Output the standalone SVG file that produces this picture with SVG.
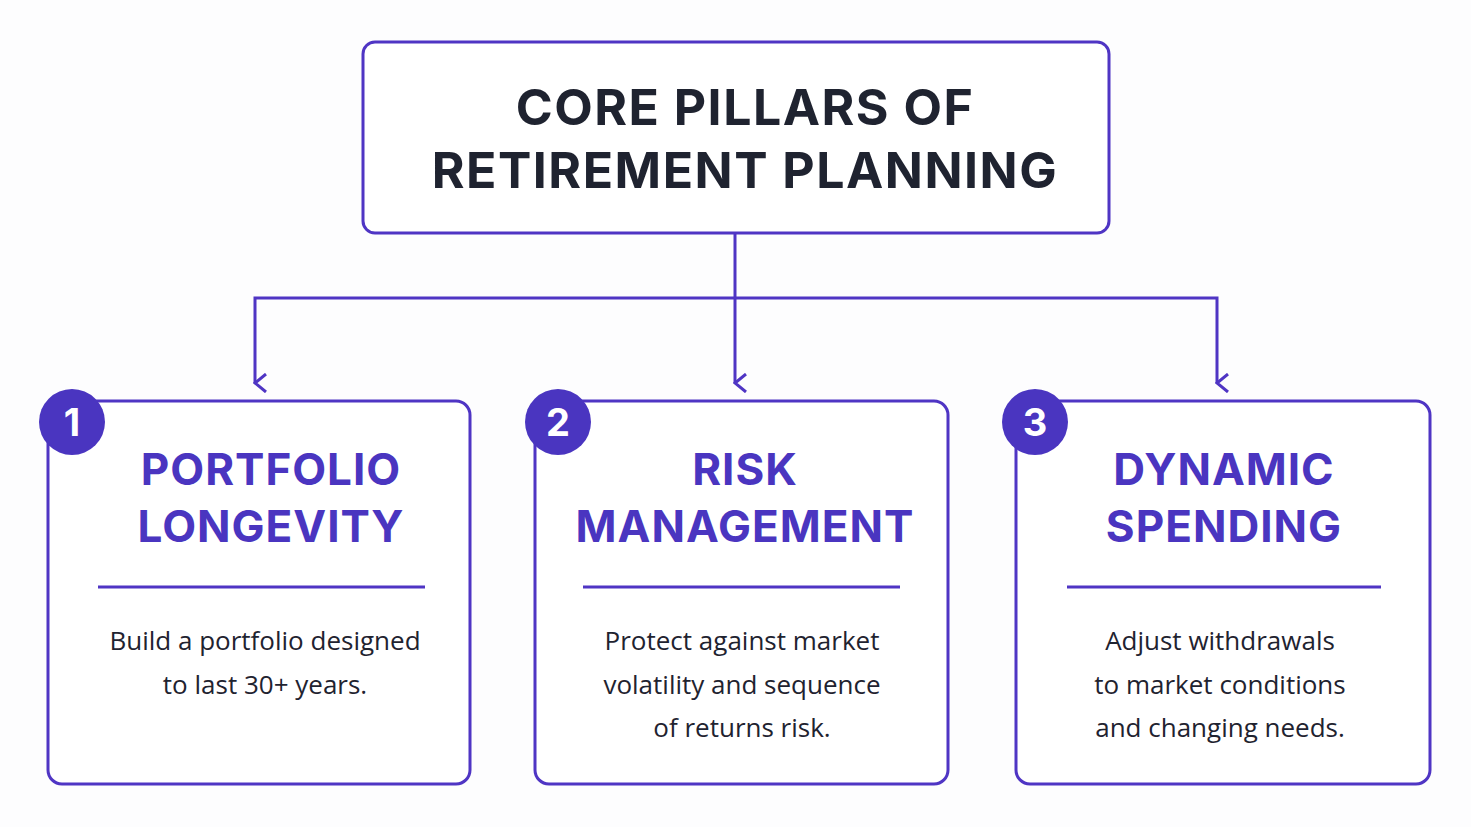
<svg xmlns="http://www.w3.org/2000/svg" width="1471" height="827" viewBox="0 0 1471 827">
<defs>
<style>
.box{fill:#fff;stroke:#4f35c4;stroke-width:3}
.ttl{font-family:Inter,"Liberation Sans",sans-serif;font-weight:700;font-size:50px;fill:#1f2330;text-anchor:middle;letter-spacing:1.5px}
.h{font-family:Inter,"Liberation Sans",sans-serif;font-weight:700;font-size:44px;fill:#4a35c0;text-anchor:middle;letter-spacing:1px}
.b{font-family:"Open Sans","Liberation Sans",sans-serif;font-size:26px;fill:#1f2330;text-anchor:middle}
.num{font-family:Inter,"Liberation Sans",sans-serif;font-weight:700;font-size:38px;fill:#fff;text-anchor:middle}
.sep{stroke:#4f35c4;stroke-width:3}
.c{fill:none;stroke:#4f35c4;stroke-width:3}
</style>
<marker id="a" viewBox="0 0 20 14" refX="10" refY="12" markerWidth="20" markerHeight="14" markerUnits="userSpaceOnUse" orient="auto-start-reverse"><path d="M1 1 L10 12 L19 1" fill="none" stroke="#4f35c4" stroke-width="3"/></marker>
</defs>
<rect width="1471" height="827" fill="#fdfdfe"/>
<g id="connectors">
<path class="c" d="M735 233 V383" marker-end="url(#a)"/>
<path class="c" d="M255 383 V298 H1217 V383" marker-end="url(#a)" marker-start="url(#a)"/>
</g>
<g id="title">
<rect class="box" x="363" y="42" width="746" height="191" rx="12"/>
<text class="ttl" x="745" y="125">CORE PILLARS OF</text>
<text class="ttl" x="745" y="188">RETIREMENT PLANNING</text>
</g>
<g id="p1">
<rect class="box" x="48" y="401" width="422" height="383" rx="14"/>
<circle cx="72" cy="422" r="33" fill="#4a35c0"/>
<text class="num" x="72" y="436">1</text>
<text class="h" x="271" y="485">PORTFOLIO</text>
<text class="h" x="271" y="542">LONGEVITY</text>
<line class="sep" x1="98" y1="587" x2="425" y2="587"/>
<text class="b" x="265" y="650">Build a portfolio designed</text>
<text class="b" x="265" y="694">to last 30+ years.</text>
</g>
<g id="p2">
<rect class="box" x="535" y="401" width="413" height="383" rx="14"/>
<circle cx="558" cy="422" r="33" fill="#4a35c0"/>
<text class="num" x="558" y="436">2</text>
<text class="h" x="745" y="485">RISK</text>
<text class="h" x="745" y="542">MANAGEMENT</text>
<line class="sep" x1="583" y1="587" x2="900" y2="587"/>
<text class="b" x="742" y="650">Protect against market</text>
<text class="b" x="742" y="694">volatility and sequence</text>
<text class="b" x="742" y="737">of returns risk.</text>
</g>
<g id="p3">
<rect class="box" x="1016" y="401" width="414" height="383" rx="14"/>
<circle cx="1035" cy="422" r="33" fill="#4a35c0"/>
<text class="num" x="1035" y="436">3</text>
<text class="h" x="1224" y="485">DYNAMIC</text>
<text class="h" x="1224" y="542">SPENDING</text>
<line class="sep" x1="1067" y1="587" x2="1381" y2="587"/>
<text class="b" x="1220" y="650">Adjust withdrawals</text>
<text class="b" x="1220" y="694">to market conditions</text>
<text class="b" x="1220" y="737">and changing needs.</text>
</g>
</svg>
